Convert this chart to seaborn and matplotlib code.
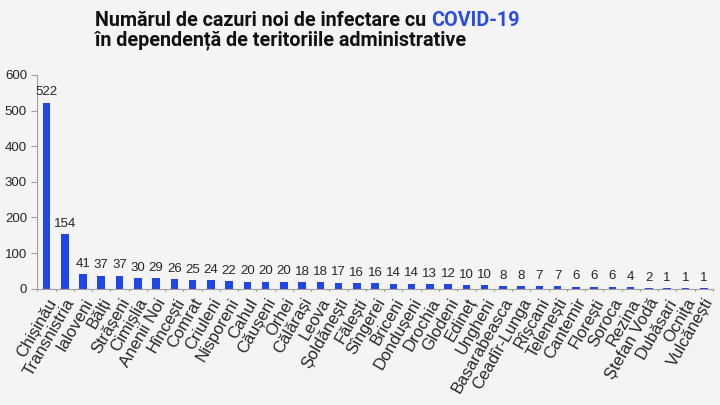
import numpy as np
import pandas as pd
import matplotlib
matplotlib.use('Agg')
import matplotlib.pyplot as plt
import seaborn as sns

# Dados: cazuri noi pe teritorii administrative
regions = ["Chișinău", "Transnistria", "Ialoveni", "Bălți", "Strășeni", "Cimișlia",
           "Anenii Noi", "Hîncești", "Comrat", "Criuleni", "Nisporeni", "Cahul",
           "Căușeni", "Orhei", "Călărași", "Leova", "Șoldănești", "Fălești",
           "Sîngerei", "Briceni", "Dondușeni", "Drochia", "Glodeni", "Edineț",
           "Ungheni", "Basarabeasca", "Ceadîr-Lunga", "Rîșcani", "Telenești",
           "Cantemir", "Florești", "Soroca", "Rezina", "Ștefan Vodă", "Dubăsari",
           "Ocnița", "Vulcănești"]
cases = [522, 154, 41, 37, 37, 30, 29, 26, 25, 24, 22, 20, 20, 20, 18, 18, 17, 16,
         16, 14, 14, 13, 12, 10, 10, 8, 8, 7, 7, 6, 6, 6, 4, 2, 1, 1, 1]
y_ticks = [0, 100, 200, 300, 400, 500, 600]

title_line1 = "Numărul de cazuri noi de infectare cu "
title_blue = "COVID-19"
title_line2 = "în dependență de teritoriile administrative"

BG = '#f4f4f4'
BAR = '#1f46e6'
TXT = '#262626'

sns.set_style("white")
plt.rcParams['font.family'] = ['Liberation Sans', 'DejaVu Sans']

df = pd.DataFrame({"region": regions, "cases": cases})

fig = plt.figure(figsize=(7.2, 4.05), dpi=100, facecolor=BG)
ax = fig.add_axes([0.052, 0.287, 0.938, 0.528])
ax.set_facecolor(BG)

sns.barplot(data=df, x="region", y="cases", color=BAR, width=0.42,
            saturation=1, linewidth=0, ax=ax)

# etichete de valoare
for i, v in enumerate(cases):
    ax.text(i, v + 12, str(v), ha='center', va='bottom', fontsize=9.5, color=TXT)

ax.set_ylim(0, 600)
ax.set_xlim(-0.5, len(regions) - 0.5)
ax.set_yticks(y_ticks)
ax.set_yticklabels([str(t) for t in y_ticks], fontsize=9.5, color=TXT)
ax.set_xticks(np.arange(len(regions)))
ax.set_xticklabels(regions, rotation=60, ha='right', rotation_mode='anchor',
                   fontsize=12, color=TXT)
ax.tick_params(axis='x', length=0, pad=5)
ax.tick_params(axis='y', length=4, color='#a0a0a0', width=0.8, left=True)

# marcaje intre categorii pe axa X
for b in np.arange(-0.5, len(regions), 1.0):
    ax.plot([b, b], [0, -6], color='#a0a0a0', lw=0.8, clip_on=False)

ax.set_xlabel("")
ax.set_ylabel("")
sns.despine(ax=ax, top=True, right=True)
for s in ['left', 'bottom']:
    ax.spines[s].set_color('#a0a0a0')
    ax.spines[s].set_linewidth(0.8)

# titlu in doua culori
tfont = dict(fontsize=14.2, fontweight='bold', family=['Roboto', 'DejaVu Sans'])
t1 = fig.text(0.132, 0.936, title_line1, color='#111111', ha='left',
              va='baseline', **tfont)
fig.canvas.draw()
bb = t1.get_window_extent()
x_end = bb.x1 / fig.bbox.width
fig.text(x_end, 0.936, title_blue, color='#2a4de0', ha='left', va='baseline', **tfont)
fig.text(0.132, 0.889, title_line2, color='#111111', ha='left', va='baseline', **tfont)

fig.savefig("out.png", dpi=100, facecolor=BG)
